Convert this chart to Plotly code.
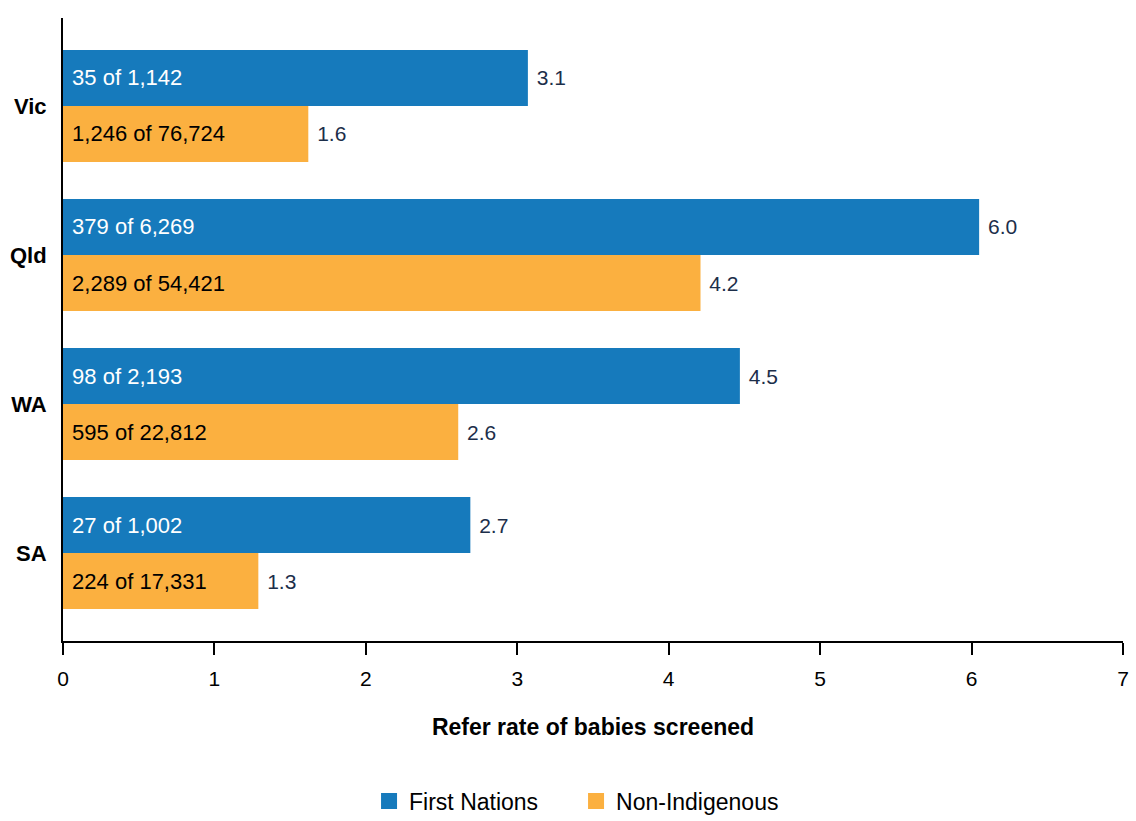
import plotly.graph_objects as go

# ---- data ----
states = ["Vic", "Qld", "WA", "SA"]
first_nations_rate = [3.07, 6.05, 4.47, 2.69]
non_indigenous_rate = [1.62, 4.21, 2.61, 1.29]
first_nations_counts = ["35 of 1,142", "379 of 6,269", "98 of 2,193", "27 of 1,002"]
non_indigenous_counts = ["1,246 of 76,724", "2,289 of 54,421", "595 of 22,812", "224 of 17,331"]
first_nations_labels = ["3.1", "6.0", "4.5", "2.7"]
non_indigenous_labels = ["1.6", "4.2", "2.6", "1.3"]
x_ticks = [0, 1, 2, 3, 4, 5, 6, 7]

BLUE = "#167abc"
ORANGE = "#fbb040"
NAVY = "#1c2e4a"
FONT = "Liberation Sans, Arial, sans-serif"
NB = "\u00a0"
TS = 22  # bar text size

fig = go.Figure()

# First Nations bars with count text inside
fig.add_trace(go.Bar(
    y=states, x=first_nations_rate, orientation="h",
    marker=dict(color=BLUE, line=dict(width=0)),
    offsetgroup="fn", name="First Nations", showlegend=False,
    text=[NB + t for t in first_nations_counts], textposition="inside",
    insidetextanchor="start", textangle=0,
    insidetextfont=dict(color="white", size=TS, family=FONT),
    hoverinfo="skip",
))
# overlay (transparent) carrying rate labels outside
fig.add_trace(go.Bar(
    y=states, x=first_nations_rate, orientation="h",
    marker=dict(color="rgba(0,0,0,0)", line=dict(width=0)),
    offsetgroup="fn", showlegend=False,
    text=[NB + t for t in first_nations_labels], textposition="outside", textangle=0,
    outsidetextfont=dict(color=NAVY, size=TS - 1, family=FONT),
    cliponaxis=False, hoverinfo="skip",
))
# Non-Indigenous bars
fig.add_trace(go.Bar(
    y=states, x=non_indigenous_rate, orientation="h",
    marker=dict(color=ORANGE, line=dict(width=0)),
    offsetgroup="ni", name="Non-Indigenous", showlegend=False,
    text=[NB + t for t in non_indigenous_counts], textposition="inside",
    insidetextanchor="start", textangle=0,
    insidetextfont=dict(color="black", size=TS, family=FONT),
    hoverinfo="skip",
))
fig.add_trace(go.Bar(
    y=states, x=non_indigenous_rate, orientation="h",
    marker=dict(color="rgba(0,0,0,0)", line=dict(width=0)),
    offsetgroup="ni", showlegend=False,
    text=[NB + t for t in non_indigenous_labels], textposition="outside", textangle=0,
    outsidetextfont=dict(color=NAVY, size=TS - 1, family=FONT),
    cliponaxis=False, hoverinfo="skip",
))

# legend entries
fig.add_trace(go.Scatter(x=[None], y=[None], mode="markers", name="First Nations",
                         marker=dict(symbol="square", size=22, color=BLUE)))
fig.add_trace(go.Scatter(x=[None], y=[None], mode="markers", name="Non-Indigenous",
                         marker=dict(symbol="square", size=22, color=ORANGE)))

fig.update_layout(
    width=1136, height=821,
    margin=dict(l=63, r=13, t=18, b=180, autoexpand=False),
    paper_bgcolor="white", plot_bgcolor="white",
    barmode="group", bargap=0.248, bargroupgap=0,
    font=dict(family=FONT, size=20, color="black"),
    uniformtext=dict(mode=False),
    legend=dict(orientation="h", x=0.484, xanchor="center", y=-0.257, yanchor="middle",
                font=dict(size=23, color="black", family=FONT), itemsizing="trace",
                entrywidth=162, entrywidthmode="pixels"),
    xaxis=dict(
        range=[0, 7], tickvals=x_ticks, ticktext=[str(v) for v in x_ticks],
        showgrid=False, zeroline=False,
        showline=True, linecolor="black", linewidth=2,
        ticks="outside", ticklen=12, tickwidth=2, tickcolor="black",
        tickfont=dict(size=21, color="black", family=FONT),
        ticklabelstandoff=6,
        title=dict(text="<b>Refer rate of babies screened</b>",
                   font=dict(size=23, color="black", family=FONT), standoff=30),
        automargin=False,
    ),
    yaxis=dict(
        range=[3.59, -0.59], type="category",
        showgrid=False, zeroline=False,
        showline=True, linecolor="black", linewidth=2,
        ticks="", ticklabelstandoff=10,
        tickfont=dict(size=22, color="black", family=FONT),
        tickvals=states, ticktext=["<b>" + s + "</b>" for s in states],
        automargin=False,
    ),
)

fig.write_html("out.html")
